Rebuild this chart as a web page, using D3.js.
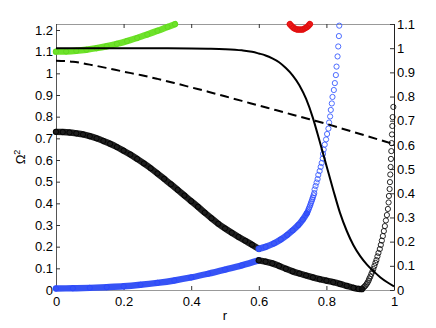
<!DOCTYPE html>
<html><head><meta charset="utf-8">
<script src="https://cdn.jsdelivr.net/npm/d3@7"></script>
<style>
html,body{margin:0;padding:0;background:#fff;}
svg{display:block;font-family:"Liberation Sans",Arial,Helvetica,sans-serif;}
</style></head>
<body>
<svg id="chart" width="436" height="328"></svg>
<script>
// ---- Data (r, Omega^2) left axis ----
const xTicks = [0,0.2,0.4,0.6,0.8,1];
const xTickLabels = ["0","0.2","0.4","0.6","0.8","1"];
const leftTicks = [0,0.1,0.2,0.3,0.4,0.5,0.6,0.7,0.8,0.9,1,1.1,1.2];
const leftTickLabels = ["0","0.1","0.2","0.3","0.4","0.5","0.6","0.7","0.8","0.9","1","1.1","1.2"];
const rightTicks = [0,0.1,0.2,0.3,0.4,0.5,0.6,0.7,0.8,0.9,1,1.1];
const rightTickLabels = ["0","0.1","0.2","0.3","0.4","0.5","0.6","0.7","0.8","0.9","1","1.1"];

const greenBranch = [[0,1.100],[0.03,1.101],[0.06,1.104],[0.09,1.109],[0.12,1.116],[0.15,1.125],[0.18,1.136],[0.21,1.149],[0.24,1.163],[0.27,1.179],[0.30,1.196],[0.33,1.214],[0.352,1.227]];
const redBranch = [[0.692,1.227],[0.697,1.218],[0.702,1.211],[0.707,1.206],[0.712,1.203],[0.717,1.202],[0.722,1.202],[0.727,1.202],[0.732,1.204],[0.737,1.208],[0.742,1.213],[0.747,1.220],[0.751,1.227]];
const blackUpper = [[0,0.730],[0.02,0.729],[0.04,0.727],[0.06,0.723],[0.08,0.718],[0.10,0.710],[0.12,0.700],[0.14,0.688],[0.16,0.675],[0.18,0.660],[0.20,0.643],[0.22,0.625],[0.24,0.605],[0.26,0.584],[0.28,0.562],[0.30,0.538],[0.32,0.513],[0.34,0.488],[0.36,0.462],[0.38,0.436],[0.40,0.410],[0.42,0.384],[0.44,0.357],[0.46,0.331],[0.48,0.306],[0.50,0.284],[0.52,0.264],[0.54,0.245],[0.56,0.227],[0.58,0.209],[0.60,0.190]];
const blueLower = [[0,0.007],[0.05,0.008],[0.10,0.010],[0.15,0.013],[0.20,0.017],[0.25,0.024],[0.30,0.033],[0.35,0.044],[0.40,0.058],[0.45,0.075],[0.50,0.094],[0.55,0.114],[0.60,0.137]];
const blueUpperDense = [[0.600,0.190],[0.620,0.199],[0.645,0.215],[0.665,0.233],[0.684,0.254],[0.700,0.275],[0.717,0.300],[0.730,0.325],[0.742,0.354]];
const blueUpperMid = [[0.744,0.360],[0.746,0.367],[0.748,0.375],[0.750,0.383],[0.752,0.391],[0.754,0.400],[0.756,0.409],[0.758,0.418],[0.760,0.427],[0.762,0.437],[0.764,0.447]];
const blueUpperSparse = [[0.765,0.464],[0.768,0.480],[0.771,0.496],[0.774,0.512],[0.776,0.531],[0.780,0.549],[0.783,0.568],[0.786,0.586],[0.789,0.607],[0.790,0.628],[0.792,0.648],[0.795,0.671],[0.799,0.695],[0.802,0.720],[0.806,0.745],[0.808,0.773],[0.811,0.801],[0.813,0.831],[0.816,0.861],[0.818,0.891],[0.822,0.923],[0.825,0.955],[0.828,0.992],[0.830,1.031],[0.833,1.078],[0.835,1.124],[0.837,1.172],[0.838,1.220]];
const blackLower = [[0.600,0.137],[0.62,0.131],[0.64,0.123],[0.66,0.111],[0.68,0.098],[0.70,0.086],[0.72,0.076],[0.74,0.067],[0.76,0.058],[0.78,0.050],[0.80,0.043],[0.82,0.036],[0.84,0.028],[0.86,0.019],[0.88,0.010],[0.895,0.005],[0.905,0.004]];
const blackRight = [[0.907,0.007],[0.910,0.012],[0.913,0.016],[0.916,0.021],[0.919,0.028],[0.922,0.035],[0.925,0.044],[0.927,0.053],[0.930,0.062],[0.933,0.074],[0.936,0.085],[0.939,0.097],[0.942,0.111],[0.945,0.125],[0.948,0.138],[0.951,0.155],[0.954,0.171],[0.958,0.189],[0.961,0.208],[0.964,0.228],[0.967,0.249],[0.970,0.272],[0.973,0.295],[0.976,0.321],[0.979,0.346],[0.982,0.374],[0.984,0.404],[0.985,0.434],[0.987,0.466],[0.988,0.498],[0.989,0.533],[0.990,0.568],[0.991,0.605],[0.992,0.641],[0.993,0.678],[0.994,0.718],[0.995,0.757],[0.996,0.798],[0.998,0.845]];

// ---- Data right axis ----
const solidProfile = [[0,1.000],[0.30,1.000],[0.40,0.999],[0.45,0.998],[0.50,0.996],[0.55,0.991],[0.58,0.985],[0.60,0.978],[0.62,0.970],[0.64,0.958],[0.66,0.942],[0.68,0.918],[0.70,0.888],[0.72,0.847],[0.74,0.790],[0.76,0.712],[0.78,0.615],[0.80,0.515],[0.82,0.415],[0.84,0.320],[0.86,0.245],[0.88,0.185],[0.90,0.140],[0.92,0.105],[0.94,0.077],[0.96,0.052],[0.98,0.032],[1.00,0.015]];
const dashedProfile = [[0,0.948],[0.05,0.944],[0.10,0.932],[0.15,0.918],[0.20,0.903],[0.25,0.889],[0.30,0.873],[0.35,0.856],[0.40,0.838],[0.45,0.820],[0.50,0.801],[0.55,0.782],[0.60,0.763],[0.65,0.744],[0.70,0.725],[0.75,0.706],[0.80,0.687],[0.85,0.666],[0.90,0.645],[0.95,0.624],[1.00,0.603]];

const svg = d3.select("#chart");
const x = d3.scaleLinear().domain([0,1]).range([56,394]);
const yL = d3.scaleLinear().domain([0,1.2277]).range([290,24]);
const yR = d3.scaleLinear().domain([0,1.1]).range([290,24]);

function styleAxis(g, color){
  g.selectAll("path.domain").attr("stroke", color).attr("stroke-width",1);
  g.selectAll(".tick line").attr("stroke", "#333");
  g.selectAll(".tick text").attr("fill","#000").style("font-size","13px")
   .style("font-family",'"Liberation Sans",Arial,sans-serif');
}
const gx = svg.append("g").attr("transform","translate(0,290)")
  .call(d3.axisBottom(x).tickValues(xTicks).tickFormat((d,i)=>xTickLabels[i]).tickSize(-4).tickSizeOuter(0).tickPadding(7));
styleAxis(gx,"#999");
const gt = svg.append("g").attr("transform","translate(0,24)")
  .call(d3.axisTop(x).tickValues(xTicks).tickFormat("").tickSize(-4).tickSizeOuter(0));
styleAxis(gt,"#999");
const gl = svg.append("g").attr("transform","translate(56,0)")
  .call(d3.axisLeft(yL).tickValues(leftTicks).tickFormat((d,i)=>leftTickLabels[i]).tickSize(-4).tickSizeOuter(0).tickPadding(3));
styleAxis(gl,"#555");
const gr = svg.append("g").attr("transform","translate(394,0)")
  .call(d3.axisRight(yR).tickValues(rightTicks).tickFormat((d,i)=>rightTickLabels[i]).tickSize(-4).tickSizeOuter(0).tickPadding(3));
styleAxis(gr,"#222");

// axis titles
svg.append("text").attr("x",225).attr("y",320).attr("text-anchor","middle")
  .style("font-size","13px").text("r");
const yt = svg.append("text").attr("transform","translate(25,157) rotate(-90)")
  .attr("text-anchor","middle").style("font-size","13px");
yt.append("tspan").text("Ω");
yt.append("tspan").attr("dy",-5).style("font-size","9px").text("2");

const bandLine = d3.line().x(d=>x(d[0])).y(d=>yL(d[1])).curve(d3.curveCatmullRom);
function band(data, color, circleColor){
  svg.append("path").datum(data).attr("d",bandLine).attr("fill","none")
    .attr("stroke",color).attr("stroke-width",6.4).attr("stroke-linecap","round").attr("stroke-linejoin","round");
  circles(data, circleColor);
}
function circles(data, color){
  svg.append("g").selectAll("circle").data(data).join("circle")
    .attr("cx",d=>x(d[0])).attr("cy",d=>yL(d[1])).attr("r",2.6)
    .attr("fill","none").attr("stroke",color).attr("stroke-width",0.9);
}
band(greenBranch,"#6ee22a","#5fd81c");
band(redBranch,"#ee1c1c","#e01010");
band(blackUpper,"#1e1e1e","#000");
band(blueLower,"#3653f5","#2a46ff");
band(blueUpperDense,"#3d5af5","#2a46ff");
circles(blueUpperMid,"#2f4dff");
circles(blueUpperSparse,"#3a5cff");
band(blackLower,"#1e1e1e","#000");
circles(blackRight,"#111");

const profLine = d3.line().x(d=>x(d[0])).y(d=>yR(d[1])).curve(d3.curveMonotoneX);
svg.append("path").datum(solidProfile).attr("d",profLine).attr("fill","none")
  .attr("stroke","#000").attr("stroke-width",2);
svg.append("path").datum(dashedProfile).attr("d",profLine).attr("fill","none")
  .attr("stroke","#000").attr("stroke-width",2).attr("stroke-dasharray","9,5");
</script>
</body></html>
